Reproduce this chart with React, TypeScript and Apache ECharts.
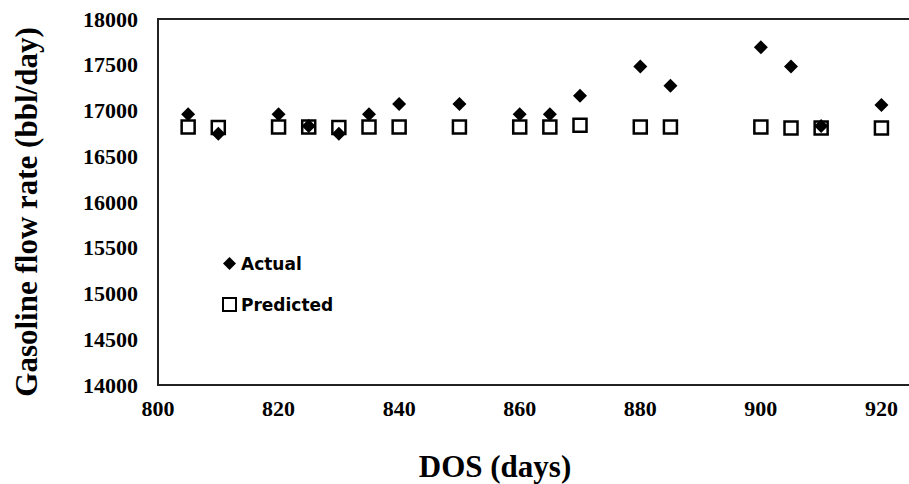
import React, { useEffect, useRef } from "react";
import * as echarts from "echarts";

const dosActual = [805, 810, 820, 825, 830, 835, 840, 850, 860, 865, 870, 880, 885, 900, 905, 910, 920];
const actualRate = [16960, 16745, 16960, 16830, 16745, 16960, 17070, 17070, 16960, 16960, 17160, 17480, 17270, 17690, 17480, 16830, 17060];
const dosPredicted = [805, 810, 820, 825, 830, 835, 840, 850, 860, 865, 870, 880, 885, 900, 905, 910, 920];
const predictedRate = [16820, 16815, 16820, 16820, 16815, 16820, 16820, 16820, 16820, 16820, 16840, 16820, 16820, 16820, 16810, 16810, 16810];

const xTitle = "DOS (days)";
const yTitle = "Gasoline flow rate (bbl/day)";
const seriesNames = ["Actual", "Predicted"];

export default function App() {
  const ref = useRef<HTMLDivElement>(null);
  useEffect(() => {
    if (!ref.current) return;
    const chart = echarts.init(ref.current, null, { renderer: "svg" });
    const serif = "Liberation Serif";
    chart.setOption({
      animation: false,
      backgroundColor: "#ffffff",
      grid: {
        left: 158,
        top: 19,
        height: 366,
        width: 844,
        containLabel: false,
        outerBoundsMode: "none",
        show: true,
        borderColor: "#222",
        borderWidth: 2,
      },
      xAxis: {
        type: "value",
        min: 800,
        max: 940,
        interval: 20,
        axisLine: { show: true, lineStyle: { color: "#222", width: 2 } },
        axisTick: { show: false },
        splitLine: { show: false },
        axisLabel: {
          color: "#000",
          fontFamily: serif,
          fontWeight: "bold",
          fontSize: 22,
          margin: 12,
          showMaxLabel: false,
          formatter: (v: number) => String(v),
        },
      },
      yAxis: {
        type: "value",
        min: 14000,
        max: 18000,
        interval: 500,
        axisLine: { show: true, lineStyle: { color: "#222", width: 2 } },
        axisTick: { show: false },
        splitLine: { show: false },
        axisLabel: {
          color: "#000",
          fontFamily: serif,
          fontWeight: "bold",
          fontSize: 22,
          margin: 20,
          formatter: (v: number) => String(v),
        },
      },
      legend: {
        orient: "vertical",
        left: 217,
        top: 250,
        itemGap: 24,
        itemWidth: 13,
        itemHeight: 13,
        textStyle: { fontFamily: "DejaVu Sans", fontWeight: "bold", fontSize: 17, color: "#000" },
        data: [
          { name: seriesNames[0], icon: "diamond", itemStyle: { color: "#000" } },
          { name: seriesNames[1], icon: "rect", itemStyle: { color: "#fff", borderColor: "#000", borderWidth: 2 } },
        ],
      },
      graphic: [
        {
          type: "text",
          x: 26,
          y: 212,
          rotation: Math.PI / 2,
          style: {
            text: yTitle,
            fontFamily: serif,
            fontWeight: "bold",
            fontSize: 31,
            fill: "#000",
            textAlign: "center",
            textVerticalAlign: "middle",
          },
        },
        {
          type: "text",
          x: 495,
          y: 466,
          style: {
            text: xTitle,
            fontFamily: serif,
            fontWeight: "bold",
            fontSize: 31,
            fill: "#000",
            textAlign: "center",
            textVerticalAlign: "middle",
          },
        },
      ],
      series: [
        {
          name: seriesNames[1],
          type: "scatter",
          symbol: "rect",
          symbolSize: 13,
          itemStyle: { color: "#fff", borderColor: "#000", borderWidth: 2.5, opacity: 1 },
          data: dosPredicted.map((d, i) => [d, predictedRate[i]]),
          z: 2,
        },
        {
          name: seriesNames[0],
          type: "scatter",
          symbol: "diamond",
          symbolSize: 14,
          itemStyle: { color: "#000", opacity: 1 },
          data: dosActual.map((d, i) => [d, actualRate[i]]),
          z: 3,
        },
      ],
    });
    return () => chart.dispose();
  }, []);
  return <div ref={ref} style={{ width: 909, height: 484, position: "absolute", left: 0, top: 0 }} />;
}
